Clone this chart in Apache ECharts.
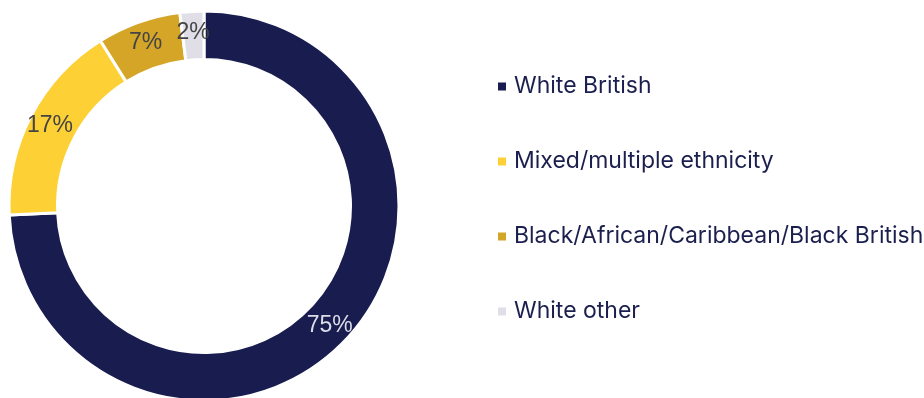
<!DOCTYPE html>
<html>
<head>
<meta charset="utf-8">
<script src="https://cdn.jsdelivr.net/npm/echarts@6/dist/echarts.min.js"></script>
<style>
  html, body { margin: 0; padding: 0; background: #ffffff; }
  #chart { width: 924px; height: 398px; }
</style>
</head>
<body>
<div id="chart"></div>
<script>
// Ethnicity breakdown, shares in percent
const categories = ['White British', 'Mixed/multiple ethnicity', 'Black/African/Caribbean/Black British', 'White other'];
const shares = [75, 17, 7, 2];
const colors = ['#181c4e', '#fdd036', '#d4a526', '#e0dfe8'];
const labelColors = ['#dcdce8', '#444444', '#444444', '#444444'];

const chart = echarts.init(document.getElementById('chart'), null, { renderer: 'canvas' });

const pieData = categories.map((name, i) => ({
  name: name,
  value: shares[i],
  itemStyle: { color: colors[i] },
  label: { color: labelColors[i] }
}));

chart.setOption({
  animation: false,
  legend: {
    orient: 'vertical',
    left: 496,
    top: 75,
    padding: 0,
    itemWidth: 10,
    itemHeight: 10,
    itemGap: 52,
    icon: 'rect',
    textStyle: {
      color: '#1b1f4e',
      fontSize: 23,
      fontFamily: 'Inter',
      padding: [0, 0, 0, 2]
    },
    data: categories
  },
  series: [{
    type: 'pie',
    center: [204, 206],
    radius: [146.5, 195],
    startAngle: 90,
    clockwise: true,
    avoidLabelOverlap: false,
    itemStyle: { borderColor: '#ffffff', borderWidth: 3 },
    label: {
      show: true,
      position: 'inside',
      formatter: '{c}%',
      fontSize: 23,
      fontFamily: 'Liberation Sans'
    },
    labelLine: { show: false },
    emphasis: { disabled: true },
    data: pieData
  }]
});
</script>
</body>
</html>
